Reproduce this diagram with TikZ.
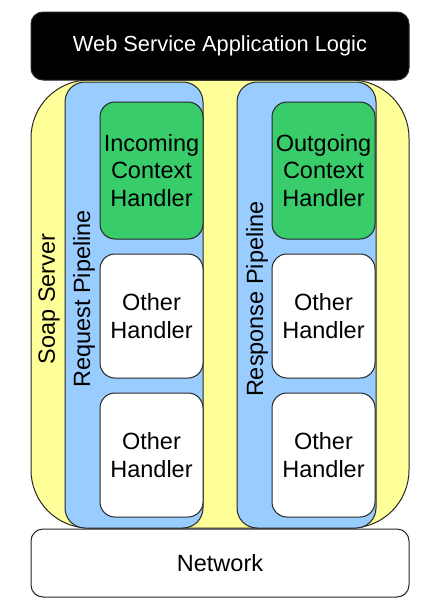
\documentclass[tikz,border=0pt]{standalone}
\usepackage{fontspec}
\setmainfont{Liberation Sans}
\usetikzlibrary{positioning}
\definecolor{soapyellow}{HTML}{FFFF99}
\definecolor{pipeblue}{HTML}{99CCFF}
\definecolor{ctxgreen}{HTML}{38CC6A}

\begin{document}
\begin{tikzpicture}[x=1pt, y=-1pt, node distance=14pt,
    every node/.style={font=\fontsize{23.5}{27.7}\selectfont}]
        \tikzset{box/.style={draw=black!85, line width=1pt, rounded corners=#1, inner sep=0pt}, box/.default=15pt}
        % Define attributes for the layers and handlers
        \tikzstyle{layer}=[box=12pt, minimum width=378pt, minimum height=68pt]
        \tikzstyle{pipeline}=[box=20pt, fill=pipeblue, minimum width=138pt, minimum height=446pt]
        \tikzstyle{handler}=[box, fill=white, align=center, minimum width=103pt, minimum height=124pt]
        \tikzstyle{context}=[handler, fill=ctxgreen, minimum height=137pt]
        \tikzstyle{strip label}=[rotate=90, inner sep=0pt]

        \useasboundingbox (0,0) rectangle (439,611);
        \node[box=58pt, fill=soapyellow, minimum width=378pt, minimum height=448pt] (soap) at (220,304) {};
        \node[layer, fill=black, text=white, font=\fontsize{21.8}{26}\selectfont] (app) at (220,46) {Web Service Application Logic};

        \node[pipeline] (req) at (134,305) {};
        \node[pipeline, minimum width=139pt] (resp) at (306.5,305) {};

        \node[context] (inc) at (151.5,170.5) {Incoming\\Context\\Handler};
        \node[handler] (req other1) [below=of inc] {Other\\Handler};
        \node[handler] (req other2) [below=of req other1] {Other\\Handler};
        \node[context] (out) at (323.5,170.5) {Outgoing\\Context\\Handler};
        \node[handler] (resp other1) [below=of out] {Other\\Handler};
        \node[handler] (resp other2) [below=of resp other1] {Other\\Handler};

        \node[layer, fill=white] (net) at (220,563) {Network};

        \node[strip label] (soap label) at (49,299) {Soap Server};
        \node[strip label] (req label) at (84,299) {Request Pipeline};
        \node[strip label] (resp label) at (257,299) {Response Pipeline};
    \end{tikzpicture}
\end{document}
